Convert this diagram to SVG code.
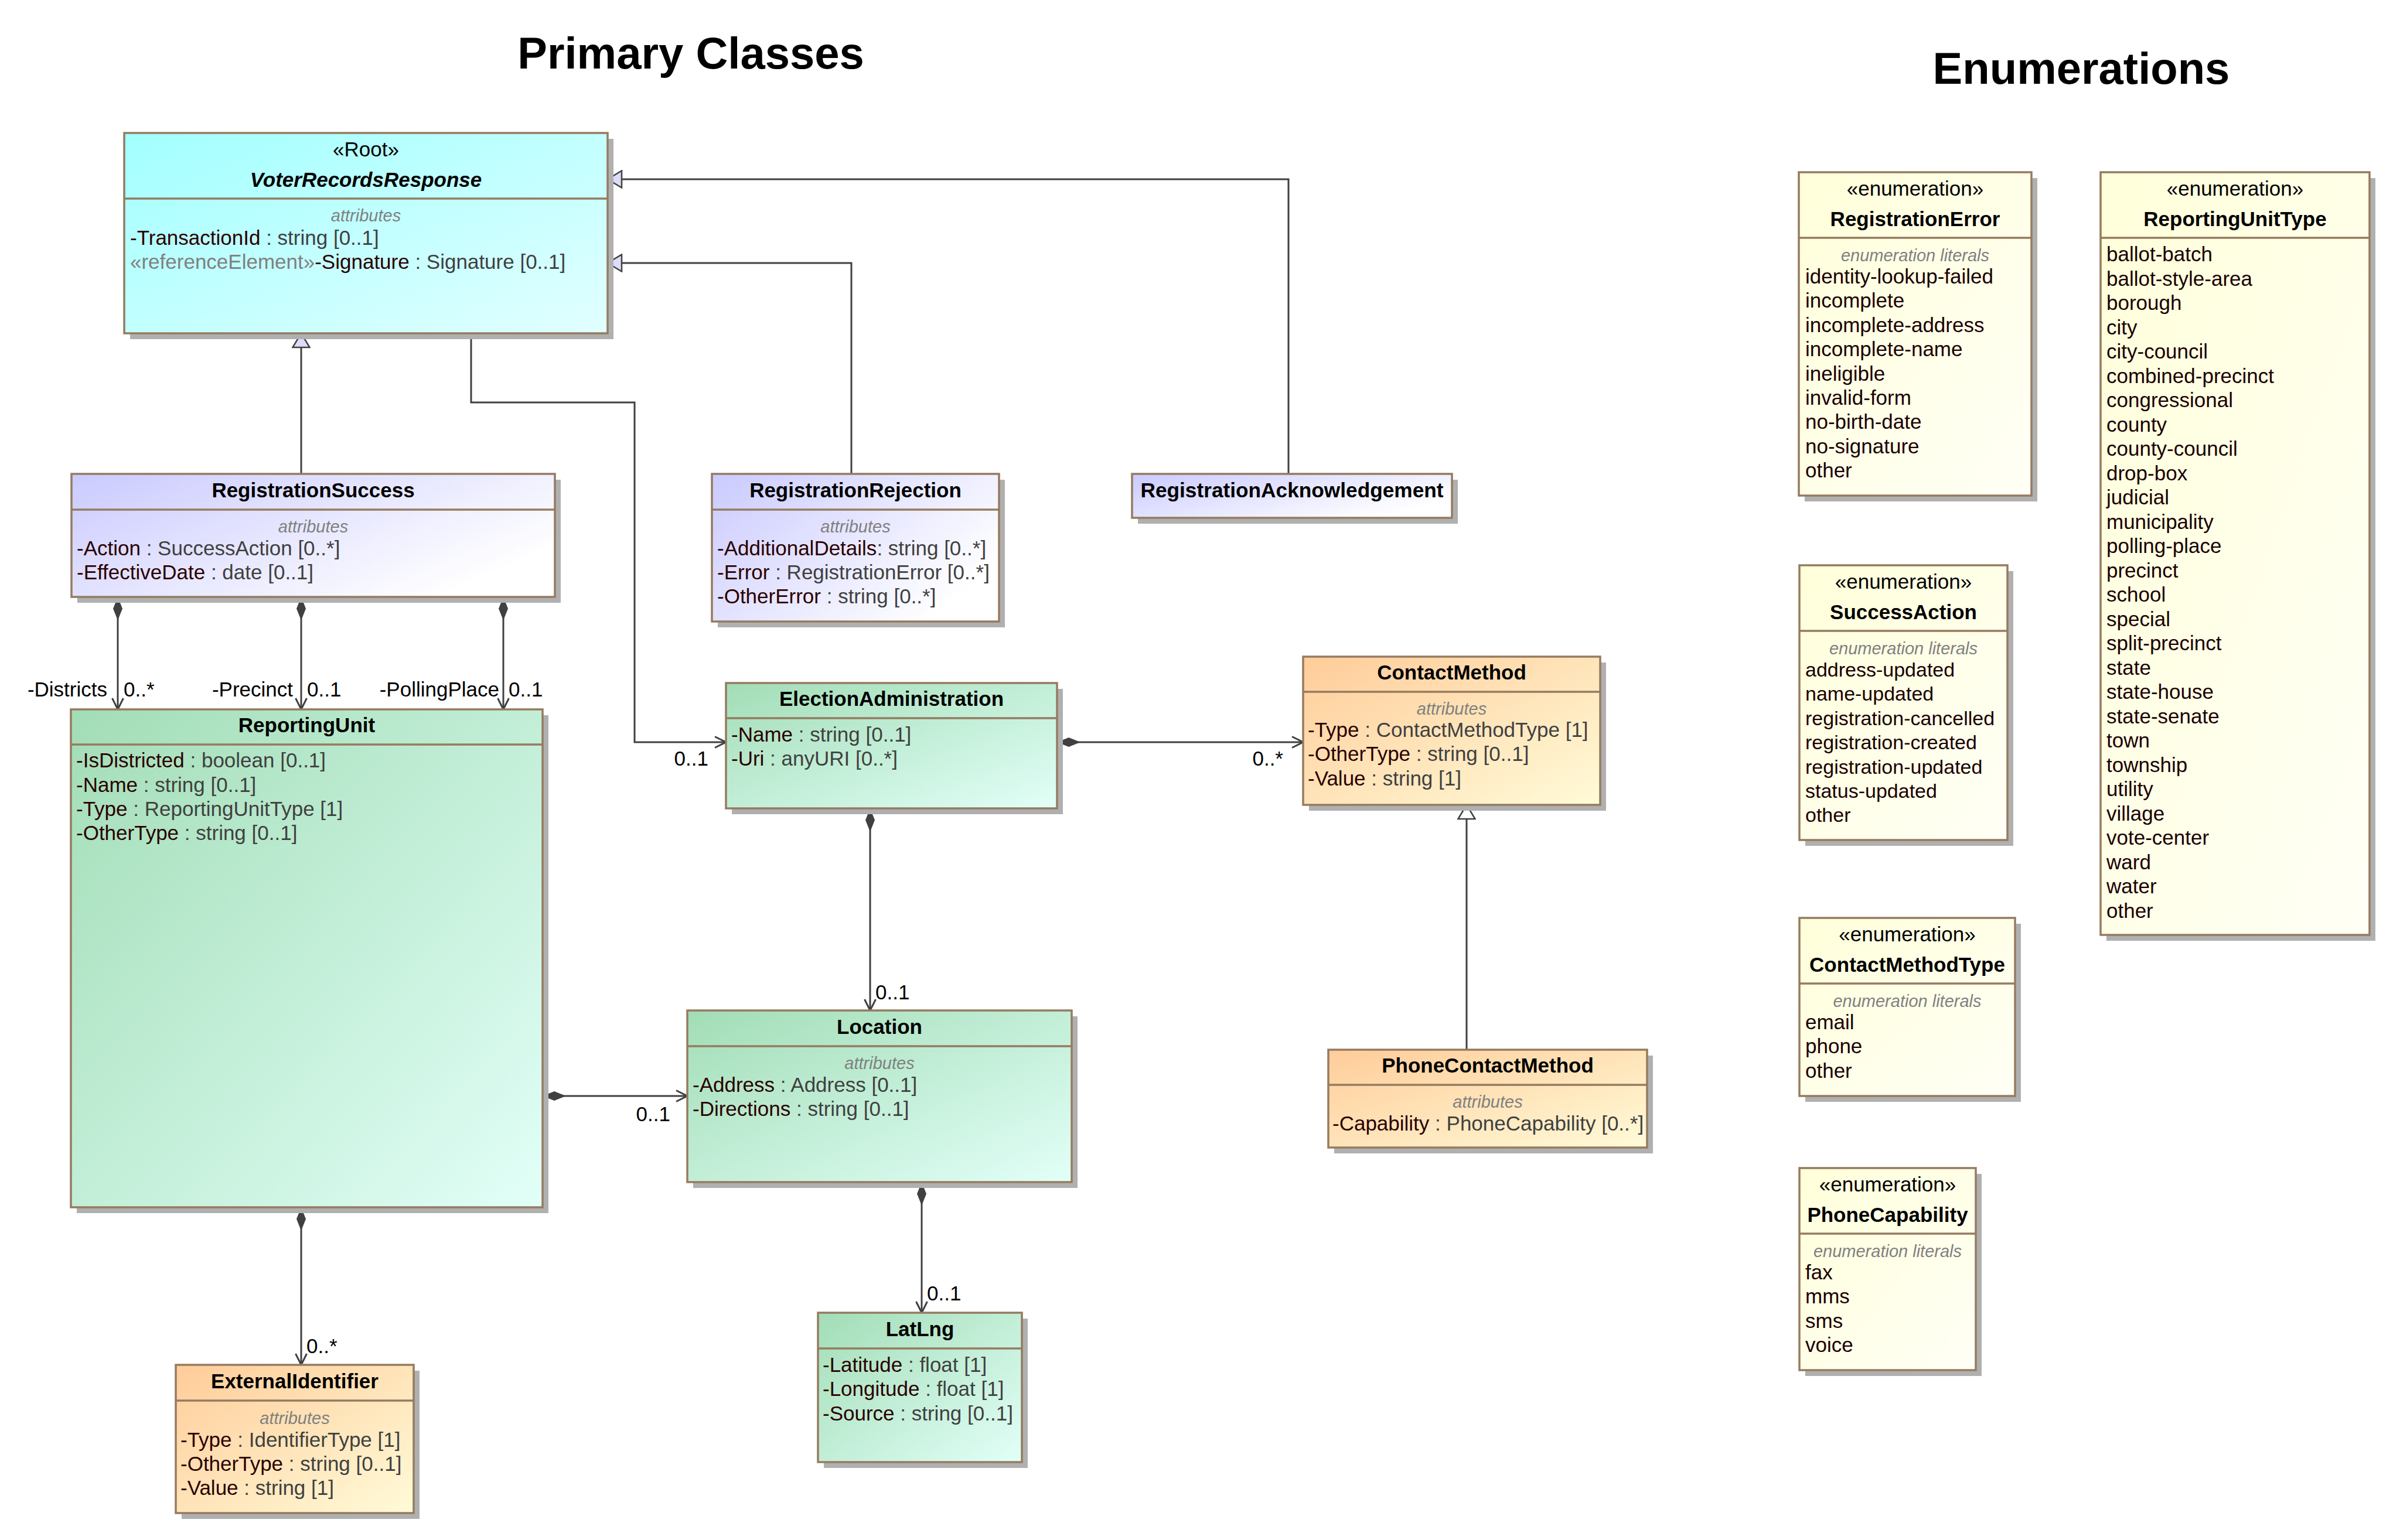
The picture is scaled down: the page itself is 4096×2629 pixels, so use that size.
<svg xmlns="http://www.w3.org/2000/svg" width="4096" height="2629" viewBox="0 0 4096 2629">
<style>
text{font-family:"Liberation Sans",Arial,Helvetica,sans-serif;font-size:35px;fill:#000}
.title{font-size:76px;font-weight:bold;text-anchor:middle}
.shadow{fill:#B0B0B0}
.box{stroke:#957B60;stroke-width:3.5}
.div{stroke:#957B60;stroke-width:3.5}
.c{text-anchor:middle}
.nb{font-weight:bold;text-anchor:middle}
.nbi{font-weight:bold;font-style:italic;text-anchor:middle}
.lbl{font-style:italic;fill:#808080;font-size:29px;text-anchor:middle}
.an{fill:#2A0000}
.at{fill:#404040}
.ref{fill:#808080}
.lit{fill:#1A0000}
.conn{fill:none;stroke:#404040;stroke-width:3}
.mult{fill:#000}
.end{text-anchor:end}
</style>
<defs>
<linearGradient id="gCyan" x1="0" y1="0" x2="1" y2="1"><stop offset="0" stop-color="#A2FFFF"/><stop offset="1" stop-color="#E2FFFF"/></linearGradient>
<linearGradient id="gLav" x1="0" y1="0" x2="1" y2="0.6"><stop offset="0" stop-color="#CACAFF"/><stop offset="1" stop-color="#FFFFFF"/></linearGradient>
<linearGradient id="gGreen" x1="0" y1="0" x2="1" y2="1"><stop offset="0" stop-color="#A2DDB6"/><stop offset="1" stop-color="#E2FFF8"/></linearGradient>
<linearGradient id="gOrange" x1="0" y1="0" x2="1" y2="1"><stop offset="0" stop-color="#FFCC99"/><stop offset="1" stop-color="#FFFBD8"/></linearGradient>
<linearGradient id="gEnum" x1="0" y1="0" x2="1" y2="1"><stop offset="0" stop-color="#FFFFDA"/><stop offset="1" stop-color="#FFFFF6"/></linearGradient>
<marker id="arr" markerUnits="userSpaceOnUse" markerWidth="24" markerHeight="24" viewBox="0 0 24 24" refX="21" refY="12" orient="auto"><path d="M2,2.5 L21,12 L2,21.5" fill="none" stroke="#404040" stroke-width="3"/></marker>
<marker id="dia" markerUnits="userSpaceOnUse" markerWidth="42" markerHeight="18" viewBox="0 0 42 18" refX="1" refY="9" orient="auto"><path d="M1,9 L21,1 L41,9 L21,17 Z" fill="#404040"/></marker>
<marker id="tri" markerUnits="userSpaceOnUse" markerWidth="28" markerHeight="32" viewBox="0 0 28 32" refX="26" refY="16" orient="auto"><path d="M2,1.5 L26,16 L2,30.5 Z" fill="#DCDCF8" stroke="#404040" stroke-width="2.5"/></marker>
<marker id="triW" markerUnits="userSpaceOnUse" markerWidth="28" markerHeight="32" viewBox="0 0 28 32" refX="26" refY="16" orient="auto"><path d="M2,1.5 L26,16 L2,30.5 Z" fill="#FFFFFF" stroke="#404040" stroke-width="2.5"/></marker>
</defs>
<rect width="4096" height="2629" fill="#FFFFFF"/>
<text class="title" x="1179" y="117">Primary Classes</text>
<text class="title" x="3552" y="143">Enumerations</text>

<g id="connectors">
<path class="conn" d="M514,809 V569" marker-end="url(#tri)"/>
<path class="conn" d="M1453,809 V449 H1037" marker-end="url(#tri)"/>
<path class="conn" d="M2199,809 V306 H1037" marker-end="url(#tri)"/>
<path class="conn" d="M2503,1792 V1374" marker-end="url(#triW)"/>
<path class="conn" d="M804,569 V687 H1083 V1267 H1239" marker-end="url(#arr)"/>
<path class="conn" d="M201,1019 V1211" marker-start="url(#dia)" marker-end="url(#arr)"/>
<path class="conn" d="M514,1019 V1211" marker-start="url(#dia)" marker-end="url(#arr)"/>
<path class="conn" d="M859,1019 V1211" marker-start="url(#dia)" marker-end="url(#arr)"/>
<path class="conn" d="M1804,1267 H2224" marker-start="url(#dia)" marker-end="url(#arr)"/>
<path class="conn" d="M1485,1380 V1725" marker-start="url(#dia)" marker-end="url(#arr)"/>
<path class="conn" d="M926,1871 H1173" marker-start="url(#dia)" marker-end="url(#arr)"/>
<path class="conn" d="M514,2061 V2330" marker-start="url(#dia)" marker-end="url(#arr)"/>
<path class="conn" d="M1573,2018 V2241" marker-start="url(#dia)" marker-end="url(#arr)"/>
<text class="mult end" x="183" y="1189">-Districts</text>
<text class="mult" x="211" y="1189">0..*</text>
<text class="mult end" x="500" y="1189">-Precinct</text>
<text class="mult" x="524" y="1189">0..1</text>
<text class="mult end" x="852" y="1189">-PollingPlace</text>
<text class="mult" x="868" y="1189">0..1</text>
<text class="mult end" x="1209" y="1307">0..1</text>
<text class="mult end" x="2190" y="1307">0..*</text>
<text class="mult" x="1494" y="1706">0..1</text>
<text class="mult end" x="1144" y="1914">0..1</text>
<text class="mult" x="523" y="2310">0..*</text>
<text class="mult" x="1582" y="2220">0..1</text>
</g>

<g id="VoterRecordsResponse">
<rect class="shadow" x="222" y="237" width="825" height="342"/>
<rect class="box" x="212" y="227" width="825" height="342" fill="url(#gCyan)"/>
<line class="div" x1="212" y1="339" x2="1037" y2="339"/>
<text class="c" x="624.5" y="267">«Root»</text>
<text class="nbi" x="624.5" y="319">VoterRecordsResponse</text>
<text class="lbl" x="624.5" y="378">attributes</text>
<text x="222" y="418"><tspan class="an">-TransactionId</tspan><tspan class="at"> : string [0..1]</tspan></text>
<text x="222" y="459"><tspan class="ref">«referenceElement»</tspan><tspan class="an">-Signature</tspan><tspan class="at"> : Signature [0..1]</tspan></text>
</g>

<g id="RegistrationSuccess">
<rect class="shadow" x="132" y="819" width="825" height="210"/>
<rect class="box" x="122" y="809" width="825" height="210" fill="url(#gLav)"/>
<line class="div" x1="122" y1="870" x2="947" y2="870"/>
<text class="nb" x="534.5" y="849">RegistrationSuccess</text>
<text class="lbl" x="534.5" y="909">attributes</text>
<text x="131" y="948"><tspan class="an">-Action</tspan><tspan class="at"> : SuccessAction [0..*]</tspan></text>
<text x="131" y="989"><tspan class="an">-EffectiveDate</tspan><tspan class="at"> : date [0..1]</tspan></text>
</g>

<g id="RegistrationRejection">
<rect class="shadow" x="1225" y="819" width="490" height="252"/>
<rect class="box" x="1215" y="809" width="490" height="252" fill="url(#gLav)"/>
<line class="div" x1="1215" y1="870" x2="1705" y2="870"/>
<text class="nb" x="1460" y="849">RegistrationRejection</text>
<text class="lbl" x="1460" y="909">attributes</text>
<text x="1224" y="948"><tspan class="an">-AdditionalDetails</tspan><tspan class="at">: string [0..*]</tspan></text>
<text x="1224" y="989"><tspan class="an">-Error</tspan><tspan class="at"> : RegistrationError [0..*]</tspan></text>
<text x="1224" y="1030"><tspan class="an">-OtherError</tspan><tspan class="at"> : string [0..*]</tspan></text>
</g>

<g id="RegistrationAcknowledgement">
<rect class="shadow" x="1942" y="819" width="546" height="75"/>
<rect class="box" x="1932" y="809" width="546" height="75" fill="url(#gLav)"/>
<text class="nb" x="2205" y="849" textLength="517" lengthAdjust="spacingAndGlyphs">RegistrationAcknowledgement</text>
</g>

<g id="ReportingUnit">
<rect class="shadow" x="131" y="1221" width="805" height="850"/>
<rect class="box" x="121" y="1211" width="805" height="850" fill="url(#gGreen)"/>
<line class="div" x1="121" y1="1271" x2="926" y2="1271"/>
<text class="nb" x="523.5" y="1250">ReportingUnit</text>
<text x="130" y="1310"><tspan class="an">-IsDistricted</tspan><tspan class="at"> : boolean [0..1]</tspan></text>
<text x="130" y="1352"><tspan class="an">-Name</tspan><tspan class="at"> : string [0..1]</tspan></text>
<text x="130" y="1393"><tspan class="an">-Type</tspan><tspan class="at"> : ReportingUnitType [1]</tspan></text>
<text x="130" y="1434"><tspan class="an">-OtherType</tspan><tspan class="at"> : string [0..1]</tspan></text>
</g>

<g id="ElectionAdministration">
<rect class="shadow" x="1249" y="1176" width="565" height="214"/>
<rect class="box" x="1239" y="1166" width="565" height="214" fill="url(#gGreen)"/>
<line class="div" x1="1239" y1="1226" x2="1804" y2="1226"/>
<text class="nb" x="1521.5" y="1205">ElectionAdministration</text>
<text x="1248" y="1266"><tspan class="an">-Name</tspan><tspan class="at"> : string [0..1]</tspan></text>
<text x="1248" y="1307"><tspan class="an">-Uri</tspan><tspan class="at"> : anyURI [0..*]</tspan></text>
</g>

<g id="ContactMethod">
<rect class="shadow" x="2234" y="1131" width="507" height="253"/>
<rect class="box" x="2224" y="1121" width="507" height="253" fill="url(#gOrange)"/>
<line class="div" x1="2224" y1="1181" x2="2731" y2="1181"/>
<text class="nb" x="2477.5" y="1160">ContactMethod</text>
<text class="lbl" x="2477.5" y="1220">attributes</text>
<text x="2232" y="1258"><tspan class="an">-Type</tspan><tspan class="at"> : ContactMethodType [1]</tspan></text>
<text x="2232" y="1299"><tspan class="an">-OtherType</tspan><tspan class="at"> : string [0..1]</tspan></text>
<text x="2232" y="1341"><tspan class="an">-Value</tspan><tspan class="at"> : string [1]</tspan></text>
</g>

<g id="Location">
<rect class="shadow" x="1183" y="1735" width="656" height="293"/>
<rect class="box" x="1173" y="1725" width="656" height="293" fill="url(#gGreen)"/>
<line class="div" x1="1173" y1="1786" x2="1829" y2="1786"/>
<text class="nb" x="1501" y="1765">Location</text>
<text class="lbl" x="1501" y="1825">attributes</text>
<text x="1182" y="1864"><tspan class="an">-Address</tspan><tspan class="at"> : Address [0..1]</tspan></text>
<text x="1182" y="1905"><tspan class="an">-Directions</tspan><tspan class="at"> : string [0..1]</tspan></text>
</g>

<g id="PhoneContactMethod">
<rect class="shadow" x="2277" y="1802" width="544" height="167"/>
<rect class="box" x="2267" y="1792" width="544" height="167" fill="url(#gOrange)"/>
<line class="div" x1="2267" y1="1852" x2="2811" y2="1852"/>
<text class="nb" x="2539" y="1831">PhoneContactMethod</text>
<text class="lbl" x="2539" y="1891">attributes</text>
<text x="2274" y="1930"><tspan class="an">-Capability</tspan><tspan class="at"> : PhoneCapability [0..*]</tspan></text>
</g>

<g id="ExternalIdentifier">
<rect class="shadow" x="310" y="2340" width="406" height="253"/>
<rect class="box" x="300" y="2330" width="406" height="253" fill="url(#gOrange)"/>
<line class="div" x1="300" y1="2391" x2="706" y2="2391"/>
<text class="nb" x="503" y="2370">ExternalIdentifier</text>
<text class="lbl" x="503" y="2431">attributes</text>
<text x="308" y="2470"><tspan class="an">-Type</tspan><tspan class="at"> : IdentifierType [1]</tspan></text>
<text x="308" y="2511"><tspan class="an">-OtherType</tspan><tspan class="at"> : string [0..1]</tspan></text>
<text x="308" y="2552"><tspan class="an">-Value</tspan><tspan class="at"> : string [1]</tspan></text>
</g>

<g id="LatLng">
<rect class="shadow" x="1406" y="2251" width="348" height="255"/>
<rect class="box" x="1396" y="2241" width="348" height="255" fill="url(#gGreen)"/>
<line class="div" x1="1396" y1="2302" x2="1744" y2="2302"/>
<text class="nb" x="1570" y="2281">LatLng</text>
<text x="1404" y="2342"><tspan class="an">-Latitude</tspan><tspan class="at"> : float [1]</tspan></text>
<text x="1404" y="2383"><tspan class="an">-Longitude</tspan><tspan class="at"> : float [1]</tspan></text>
<text x="1404" y="2425"><tspan class="an">-Source</tspan><tspan class="at"> : string [0..1]</tspan></text>
</g>

<g id="RegistrationError">
<rect class="shadow" x="3080" y="304" width="397" height="552"/>
<rect class="box" x="3070" y="294" width="397" height="552" fill="url(#gEnum)"/>
<line class="div" x1="3070" y1="406" x2="3467" y2="406"/>
<text class="c" x="3268.5" y="334">«enumeration»</text>
<text class="nb" x="3268.5" y="386">RegistrationError</text>
<text class="lbl" x="3268.5" y="446">enumeration literals</text>
<text class="lit" x="3081" y="484"><tspan x="3081" dy="0">identity-lookup-failed</tspan><tspan x="3081" dy="41.4">incomplete</tspan><tspan x="3081" dy="41.4">incomplete-address</tspan><tspan x="3081" dy="41.4">incomplete-name</tspan><tspan x="3081" dy="41.4">ineligible</tspan><tspan x="3081" dy="41.4">invalid-form</tspan><tspan x="3081" dy="41.4">no-birth-date</tspan><tspan x="3081" dy="41.4">no-signature</tspan><tspan x="3081" dy="41.4">other</tspan></text>
</g>

<g id="ReportingUnitType">
<rect class="shadow" x="3595" y="304" width="459" height="1302"/>
<rect class="box" x="3585" y="294" width="459" height="1302" fill="url(#gEnum)"/>
<line class="div" x1="3585" y1="406" x2="4044" y2="406"/>
<text class="c" x="3814.5" y="334">«enumeration»</text>
<text class="nb" x="3814.5" y="386">ReportingUnitType</text>
<text class="lit" x="3595" y="446"><tspan x="3595" dy="0">ballot-batch</tspan><tspan x="3595" dy="41.5">ballot-style-area</tspan><tspan x="3595" dy="41.5">borough</tspan><tspan x="3595" dy="41.5">city</tspan><tspan x="3595" dy="41.5">city-council</tspan><tspan x="3595" dy="41.5">combined-precinct</tspan><tspan x="3595" dy="41.5">congressional</tspan><tspan x="3595" dy="41.5">county</tspan><tspan x="3595" dy="41.5">county-council</tspan><tspan x="3595" dy="41.5">drop-box</tspan><tspan x="3595" dy="41.5">judicial</tspan><tspan x="3595" dy="41.5">municipality</tspan><tspan x="3595" dy="41.5">polling-place</tspan><tspan x="3595" dy="41.5">precinct</tspan><tspan x="3595" dy="41.5">school</tspan><tspan x="3595" dy="41.5">special</tspan><tspan x="3595" dy="41.5">split-precinct</tspan><tspan x="3595" dy="41.5">state</tspan><tspan x="3595" dy="41.5">state-house</tspan><tspan x="3595" dy="41.5">state-senate</tspan><tspan x="3595" dy="41.5">town</tspan><tspan x="3595" dy="41.5">township</tspan><tspan x="3595" dy="41.5">utility</tspan><tspan x="3595" dy="41.5">village</tspan><tspan x="3595" dy="41.5">vote-center</tspan><tspan x="3595" dy="41.5">ward</tspan><tspan x="3595" dy="41.5">water</tspan><tspan x="3595" dy="41.5">other</tspan></text>
</g>

<g id="SuccessAction">
<rect class="shadow" x="3081" y="975" width="355" height="469"/>
<rect class="box" x="3071" y="965" width="355" height="469" fill="url(#gEnum)"/>
<line class="div" x1="3071" y1="1077" x2="3426" y2="1077"/>
<text class="c" x="3248.5" y="1005">«enumeration»</text>
<text class="nb" x="3248.5" y="1057">SuccessAction</text>
<text class="lbl" x="3248.5" y="1117">enumeration literals</text>
<text class="lit" x="3081" y="1155" style="font-size:34px"><tspan x="3081" dy="0">address-updated</tspan><tspan x="3081" dy="41.4">name-updated</tspan><tspan x="3081" dy="41.4">registration-cancelled</tspan><tspan x="3081" dy="41.4">registration-created</tspan><tspan x="3081" dy="41.4">registration-updated</tspan><tspan x="3081" dy="41.4">status-updated</tspan><tspan x="3081" dy="41.4">other</tspan></text>
</g>

<g id="ContactMethodType">
<rect class="shadow" x="3081" y="1577" width="368" height="304"/>
<rect class="box" x="3071" y="1567" width="368" height="304" fill="url(#gEnum)"/>
<line class="div" x1="3071" y1="1679" x2="3439" y2="1679"/>
<text class="c" x="3255" y="1607">«enumeration»</text>
<text class="nb" x="3255" y="1659">ContactMethodType</text>
<text class="lbl" x="3255" y="1719">enumeration literals</text>
<text class="lit" x="3081" y="1757"><tspan x="3081" dy="0">email</tspan><tspan x="3081" dy="41.4">phone</tspan><tspan x="3081" dy="41.4">other</tspan></text>
</g>

<g id="PhoneCapability">
<rect class="shadow" x="3081" y="2004" width="301" height="345"/>
<rect class="box" x="3071" y="1994" width="301" height="345" fill="url(#gEnum)"/>
<line class="div" x1="3071" y1="2106" x2="3372" y2="2106"/>
<text class="c" x="3221.5" y="2034">«enumeration»</text>
<text class="nb" x="3221.5" y="2086">PhoneCapability</text>
<text class="lbl" x="3221.5" y="2146">enumeration literals</text>
<text class="lit" x="3081" y="2184"><tspan x="3081" dy="0">fax</tspan><tspan x="3081" dy="41.4">mms</tspan><tspan x="3081" dy="41.4">sms</tspan><tspan x="3081" dy="41.4">voice</tspan></text>
</g>
</svg>
